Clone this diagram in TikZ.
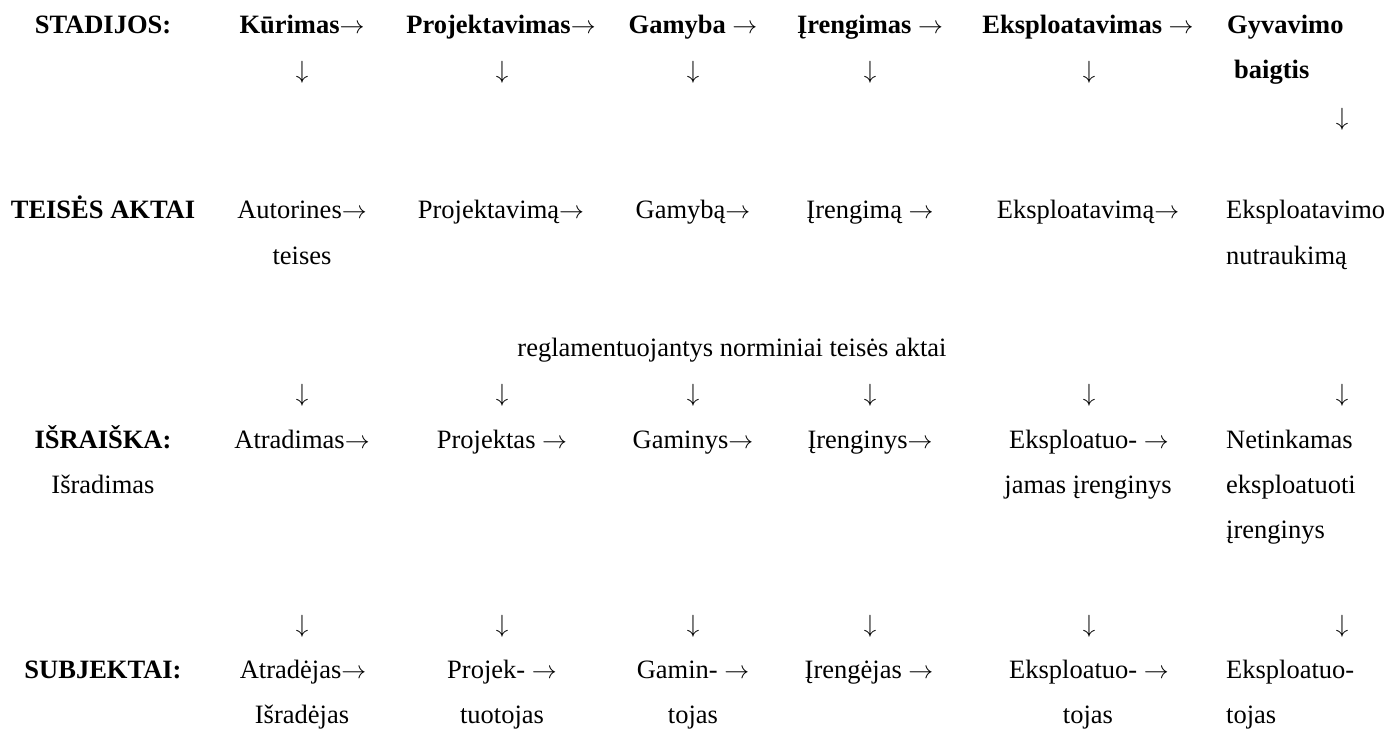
\documentclass[tikz,border=0pt]{standalone}
\usepackage{fontspec}
\setmainfont{Liberation Serif}
\usepackage{tikz}

\newcommand{\ra}{$\rightarrow$}
\newcommand{\da}{$\downarrow$}

\begin{document}
\begin{tikzpicture}[x=1pt, y=-1pt,
	txt/.style={anchor=base, inner sep=0pt, font=\fontsize{26.5}{31}\selectfont},
	hd/.style={txt, font=\fontsize{26.5}{31}\selectfont\bfseries},
	lft/.style={anchor=base west}]
	\useasboundingbox (0,0) rectangle (1389,729);
	% STADIJOS
	\node[hd] (st0) at (103,33) {STADIJOS:};
	\node[hd] (st1) at (302,33) {Kūrimas\ra};
	\node[hd] (st2) at (501,33) {Projektavimas\ra};
	\node[hd] (st3) at (693,33) {Gamyba \ra};
	\node[hd] (st4) at (870,33) {Įrengimas \ra};
	\node[hd] (st5) at (1088,33) {Eksploatavimas \ra};
	\node[hd, lft] (st6) at (1227,33) {Gyvavimo};
	\node[hd, lft] (st6b) at (1234,78) {baigtis};
	\node[txt] (da1) at (302,78) {\da};
	\node[txt] (da2) at (502,78) {\da};
	\node[txt] (da3) at (693,78) {\da};
	\node[txt] (da4) at (870,78) {\da};
	\node[txt] (da5) at (1089,78) {\da};
	\node[txt] (da6) at (1342,125) {\da};
	% TEISES AKTAI
	\node[hd] (ta0) at (103,218) {TEISĖS AKTAI};
	\node[txt] (ta1) at (302,218) {Autorines\ra};
	\node[txt] (ta1b) at (302,264) {teises};
	\node[txt] (ta2) at (501,218) {Projektavimą\ra};
	\node[txt] (ta3) at (693,218) {Gamybą\ra};
	\node[txt] (ta4) at (870,218) {Įrengimą \ra};
	\node[txt] (ta5) at (1088,218) {Eksploatavimą\ra};
	\node[txt, lft] (ta6) at (1226,218) {Eksploatavimo};
	\node[txt, lft] (ta6b) at (1226,264) {nutraukimą};
	\node[txt] (reg) at (732,356) {reglamentuojantys norminiai teisės aktai};
	\node[txt] (db1) at (302,401) {\da};
	\node[txt] (db2) at (502,401) {\da};
	\node[txt] (db3) at (693,401) {\da};
	\node[txt] (db4) at (870,401) {\da};
	\node[txt] (db5) at (1089,401) {\da};
	\node[txt] (db6) at (1342,401) {\da};
	% ISRAISKA
	\node[hd] (is0) at (103,448) {IŠRAIŠKA:};
	\node[txt] (is0b) at (103,493) {Išradimas};
	\node[txt] (is1) at (302,448) {Atradimas\ra};
	\node[txt] (is2) at (502,448) {Projektas \ra};
	\node[txt] (is3) at (693,448) {Gaminys\ra};
	\node[txt] (is4) at (870,448) {Įrenginys\ra};
	\node[txt] (is5) at (1089,448) {Eksploatuo- \ra};
	\node[txt] (is5b) at (1088,493) {jamas įrenginys};
	\node[txt, lft] (is6) at (1226,448) {Netinkamas};
	\node[txt, lft] (is6b) at (1226,493) {eksploatuoti};
	\node[txt, lft] (is6c) at (1226,538) {įrenginys};
	\node[txt] (dc1) at (302,632) {\da};
	\node[txt] (dc2) at (502,632) {\da};
	\node[txt] (dc3) at (693,632) {\da};
	\node[txt] (dc4) at (870,632) {\da};
	\node[txt] (dc5) at (1089,632) {\da};
	\node[txt] (dc6) at (1342,632) {\da};
	% SUBJEKTAI
	\node[hd] (su0) at (103,678) {SUBJEKTAI:};
	\node[txt] (su1) at (303,678) {Atradėjas\ra};
	\node[txt] (su1b) at (302,723) {Išradėjas};
	\node[txt] (su2) at (502,678) {Projek- \ra};
	\node[txt] (su2b) at (502,723) {tuotojas};
	\node[txt] (su3) at (693,678) {Gamin- \ra};
	\node[txt] (su3b) at (693,723) {tojas};
	\node[txt] (su4) at (869,678) {Įrengėjas \ra};
	\node[txt] (su5) at (1089,678) {Eksploatuo- \ra};
	\node[txt] (su5b) at (1088,723) {tojas};
	\node[txt, lft] (su6) at (1226,678) {Eksploatuo-};
	\node[txt, lft] (su6b) at (1226,723) {tojas};
\end{tikzpicture}
\end{document}
